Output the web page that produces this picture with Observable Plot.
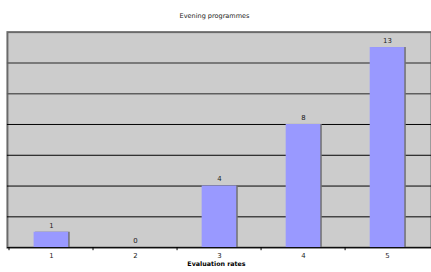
<!DOCTYPE html>
<html>
<head>
<meta charset="utf-8">
<script src="https://cdn.jsdelivr.net/npm/d3@7"></script>
<script src="https://cdn.jsdelivr.net/npm/@observablehq/plot@0.6"></script>
<style>
  html, body { margin: 0; padding: 0; background: #fff; overflow: hidden; }
  #chart { width: 431px; height: 272px; overflow: hidden; }
</style>
</head>
<body>
<div id="chart"></div>
<script>
const rates = ["1", "2", "3", "4", "5"];
const counts = [1, 0, 4, 8, 13];
const gridValues = [2, 4, 6, 8, 10, 12];
const title = "Evening programmes";
const xLabel = "Evaluation rates";

const data = rates.map((r, i) => ({rate: r, count: counts[i]}));
const W = 436, ML = 7;
const bw = (W - ML) / rates.length;
const font = "DejaVu Sans, Verdana, sans-serif";

const chart = Plot.plot({
  width: W,
  height: 272,
  marginTop: 32,
  marginBottom: 22,
  marginLeft: ML,
  marginRight: 0,
  style: {fontFamily: font, fontSize: "7px", background: "#fff", overflow: "visible"},
  x: {type: "band", domain: rates, padding: 0, axis: null},
  y: {domain: [0, 14], axis: null},
  marks: [
    Plot.frame({fill: "#cccccc", stroke: "#6a6a6a", strokeWidth: 2}),
    Plot.ruleY(gridValues, {stroke: d => d >= 10 ? "#5e5e5e" : "#000", strokeWidth: d => d >= 10 ? 1.5 : 1}),
    Plot.barY(data, {x: "rate", y: "count", fill: "#707070", insetLeft: 25, insetRight: 25, dx: 1.5}),
    Plot.barY(data, {x: "rate", y: "count", fill: "#9999ff", insetLeft: 25, insetRight: 25}),
    Plot.text(data, {x: "rate", y: "count", text: d => String(d.count), dy: -7, fill: "#222", fontSize: 7}),
    Plot.ruleY([0], {stroke: "#000", strokeWidth: 1}),
    Plot.ruleX(rates, {x: d => d, dx: -bw / 2, y1: 0, y2: -0.2, stroke: "#000"}),
    Plot.text(rates, {x: d => d, y: 0, text: d => d, dy: 8.5, fill: "#222", fontSize: 7}),
    Plot.text([title], {frameAnchor: "top", lineAnchor: "middle", text: d => d, dy: -16.5, dx: -5, fill: "#222", fontSize: 6.6}),
    Plot.text([xLabel], {frameAnchor: "bottom", lineAnchor: "middle", text: d => d, dy: 17, dx: -3, fill: "#000", fontSize: 6.4, fontWeight: "bold"})
  ]
});
document.getElementById("chart").appendChild(chart);
</script>
</body>
</html>
